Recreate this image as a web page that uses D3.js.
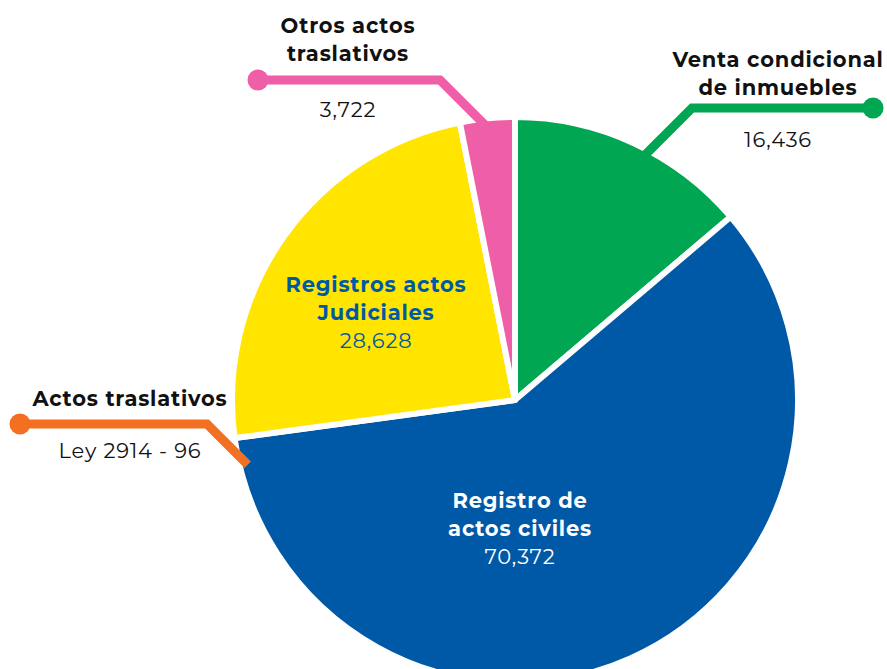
<!DOCTYPE html>
<html>
<head>
<meta charset="utf-8">
<script src="https://cdn.jsdelivr.net/npm/d3@7"></script>
<style>
  body { margin: 0; background: #fff; }
  svg text { font-family: Montserrat, "Noto Sans", sans-serif; font-size: 21px; letter-spacing: 0.8px; }
</style>
</head>
<body>
<svg id="chart" width="887" height="669"></svg>
<script>
// data
const categories = ["Venta condicional de inmuebles", "Registro de actos civiles", "Actos traslativos", "Registros actos Judiciales", "Otros actos traslativos"];
const values = [16436, 70372, 0, 28628, 3722];
const valueLabels = ["16,436", "70,372", "Ley 2914 - 96", "28,628", "3,722"];
const titleLines = [["Venta condicional", "de inmuebles"], ["Registro de", "actos civiles"], ["Actos traslativos"], ["Registros actos", "Judiciales"], ["Otros actos", "traslativos"]];
const colours = ["#00a651", "#0059a6", "#f36f21", "#ffe500", "#ef5fa7"];

const svg = d3.select("#chart"),
    cx = 515, cy = 400, radius = 283;

const g = svg.append("g").attr("transform", "translate(" + cx + "," + cy + ")");

const pie = d3.pie().sort(null).value(d => d.value);
const arc = d3.arc().innerRadius(0).outerRadius(radius);

const rows = categories.map((c, i) => ({name: c, value: values[i], label: valueLabels[i], lines: titleLines[i], colour: colours[i]}));
const arcs = pie(rows);

g.selectAll("path.slice")
  .data(arcs.filter(d => d.data.value > 0))
  .enter()
  .append("path")
    .attr("class", "slice")
    .attr("d", arc)
    .style("fill", d => d.data.colour)
    .style("stroke", "#fff")
    .style("stroke-width", 6)
    .style("stroke-linejoin", "round");

// inside labels (yellow + blue slices)
const inside = {
  1: {x: 5, y: 108, fill: "#fff"},
  3: {x: -139, y: -108, fill: "#0059a6"}
};

Object.keys(inside).forEach(function(k) {
  let o = inside[k], d = rows[k];
  let t = g.append("text")
    .attr("text-anchor", "middle")
    .attr("x", o.x).attr("y", o.y)
    .style("fill", o.fill);
  d.lines.forEach(function(l, j) {
    t.append("tspan").attr("x", o.x).attr("dy", j == 0 ? 0 : 28)
      .style("font-weight", "bold").text(l);
  });
  t.append("tspan").attr("x", o.x).attr("dy", 28).style("font-weight", "normal").text(d.label);
});

// outside labels with leader lines
//elbow point, dot x, text centre, text baseline
const outside = {
  0: {ex: 692, ey: 108, dir: -1, dotX: 873, tx: 778, ty: 67, vy: 147},
  4: {ex: 440, ey: 80, dir: 1, dotX: 258, tx: 348, ty: 33, vy: 117},
  2: {ex: 207, ey: 424, dir: 1, dotX: 20, tx: 130, ty: 406, vy: 458}
};

Object.keys(outside).forEach(function(k) {
  let o = outside[k], d = rows[k];
  // walk along 45 deg from the elbow until we are inside the pie
  let ex = o.ex - cx, ey = o.ey - cy, r2 = (radius - 8) * (radius - 8);
  let a = 2, b = 2 * (ex * o.dir + ey), c = ex * ex + ey * ey - r2;
  let s = (-b - Math.sqrt(b * b - 4 * a * c)) / (2 * a);
  let sx = o.ex + s * o.dir, sy = o.ey + s;

  svg.append("path")
    .attr("d", d3.line()([[sx, sy], [o.ex, o.ey], [o.dotX, o.ey]]))
    .style("fill", "none")
    .style("stroke", d.colour)
    .style("stroke-width", 9)
    .style("stroke-linejoin", "miter");

  svg.append("circle")
    .attr("cx", o.dotX).attr("cy", o.ey).attr("r", 10.5)
    .style("fill", d.colour);

  d.lines.forEach(function(l, j) {
    svg.append("text")
      .attr("x", o.tx).attr("y", o.ty + j * 28)
      .attr("text-anchor", "middle")
      .style("font-weight", "bold")
      .style("fill", "#111")
      .text(l);
  });
  svg.append("text")
    .attr("x", o.tx).attr("y", o.vy)
    .attr("text-anchor", "middle")
    .style("fill", "#111")
    .text(d.label);
});
</script>
</body>
</html>
